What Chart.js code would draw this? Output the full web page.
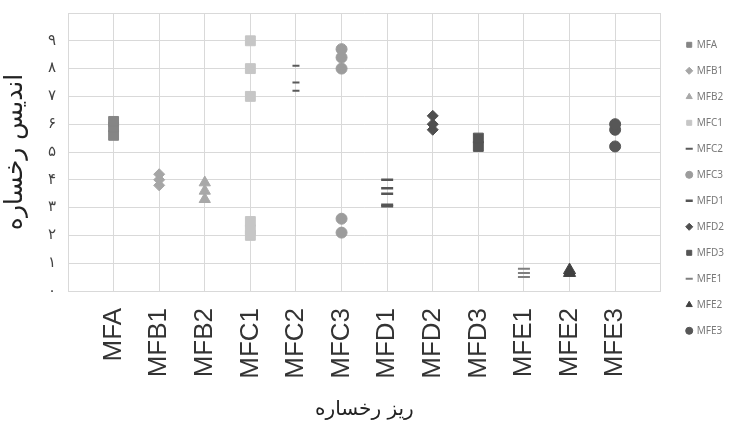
<!DOCTYPE html>
<html>
<head>
<meta charset="utf-8">
<script src="https://cdn.jsdelivr.net/npm/chart.js@4/dist/chart.umd.min.js"></script>
<style>
  html, body { margin: 0; padding: 0; background: #fff; }
  #wrap { width: 729px; height: 424px; }
</style>
</head>
<body>
<div id="wrap"><canvas id="faciesChart" width="729" height="424"></canvas></div>
<script>
// microfacies along the x axis
const faciesNames = ['MFA', 'MFB1', 'MFB2', 'MFC1', 'MFC2', 'MFC3', 'MFD1', 'MFD2', 'MFD3', 'MFE1', 'MFE2', 'MFE3'];

// facies index readings for each microfacies
const valsMFA  = [5.6, 5.9, 6.1];
const valsMFB1 = [3.8, 4.0, 4.2];
const valsMFB2 = [3.3, 3.6, 3.9];
const valsMFC1 = [2.0, 2.2, 2.5, 7.0, 8.0, 9.0];
const valsMFC2 = [7.2, 7.5, 8.1];
const valsMFC3 = [2.1, 2.6, 8.0, 8.4, 8.7];
const valsMFD1 = [3.05, 3.1, 3.5, 3.7, 4.0];
const valsMFD2 = [5.8, 6.0, 6.3];
const valsMFD3 = [5.2, 5.5];
const valsMFE1 = [0.5, 0.65, 0.8];
const valsMFE2 = [0.65, 0.75];
const valsMFE3 = [5.2, 5.8, 6.0];

// y axis labels in Persian digits
const yTickLabels = ['۰', '۱', '۲', '۳', '۴', '۵', '۶', '۷', '۸', '۹'];

const seriesValues = [valsMFA, valsMFB1, valsMFB2, valsMFC1, valsMFC2, valsMFC3,
                      valsMFD1, valsMFD2, valsMFD3, valsMFE1, valsMFE2, valsMFE3];

// marker look per series
const markerShapes = ['rect', 'rectRot', 'triangle', 'rect', 'line', 'circle',
                      'line', 'rectRot', 'rect', 'line', 'triangle', 'circle'];
const markerColors = ['#858585', '#a6a6a6', '#a8a8a8', '#c6c6c6', '#5a5a5a', '#9c9c9c',
                      '#555555', '#4f4f4f', '#555555', '#7f7f7f', '#404040', '#575757'];
const markerRadius = [7, 5.5, 6.5, 7, 3.5, 5.5, 6, 5.5, 7, 6, 7, 5.5];
const markerBorder = [1, 1, 1, 1, 2, 1, 2.5, 1, 1, 2, 1, 1];

const datasets = faciesNames.map((name, i) => ({
  label: name,
  data: seriesValues[i].map(v => ({ x: i + 1, y: v })),
  pointStyle: markerShapes[i],
  backgroundColor: markerColors[i],
  borderColor: markerColors[i],
  borderWidth: markerBorder[i],
  pointRadius: markerRadius[i],
  pointHoverRadius: markerRadius[i]
}));

const gridColor = '#d9d9d9';

new Chart(document.getElementById('faciesChart'), {
  type: 'scatter',
  data: { datasets },
  options: {
    responsive: false,
    animation: false,
    layout: { padding: { top: 13, right: -5, bottom: 0, left: 0 } },
    plugins: {
      tooltip: { enabled: false },
      legend: {
        position: 'right',
        align: 'start',
        title: { display: true, text: '', padding: 0, font: { size: 9 } },
        labels: {
          usePointStyle: true,
          boxWidth: 5,
          boxHeight: 5,
          padding: 16,
          color: '#7a7a7a',
          font: { family: 'Noto Sans', size: 10 }
        }
      }
    },
    scales: {
      x: {
        type: 'linear',
        min: 0,
        max: 13,
        afterFit: s => { s.height = 133; },
        ticks: {
          stepSize: 1,
          autoSkip: false,
          minRotation: 90,
          maxRotation: 90,
          padding: 17,
          color: '#333',
          font: { family: 'Liberation Sans', size: 26 },
          callback: v => faciesNames[v - 1] || ''
        },
        grid: { color: gridColor, drawTicks: false },
        border: { color: gridColor },
        title: {
          display: true,
          text: 'ریز رخساره',
          color: '#222',
          padding: { top: 0, bottom: 2 },
          font: { family: 'DejaVu Sans', size: 20 }
        }
      },
      y: {
        min: 0,
        max: 10,
        afterFit: s => { s.width = 68; s.paddingTop = 0; s.paddingBottom = 0; },
        ticks: {
          stepSize: 1,
          padding: 12,
          color: '#444',
          font: { family: 'DejaVu Sans', size: 15 },
          callback: v => yTickLabels[v] || ''
        },
        grid: { color: gridColor, drawTicks: false },
        border: { color: gridColor },
        title: {
          display: true,
          text: 'اندیس رخساره',
          color: '#222',
          padding: { top: 0, bottom: 0 },
          font: { family: 'DejaVu Sans', size: 25 }
        }
      },
      // empty gap between the plot and the legend
      gap: {
        type: 'linear',
        position: 'right',
        display: true,
        afterFit: s => { s.width = 10; },
        ticks: { display: false },
        grid: { display: false },
        border: { display: false }
      }
    }
  }
});
</script>
</body>
</html>
